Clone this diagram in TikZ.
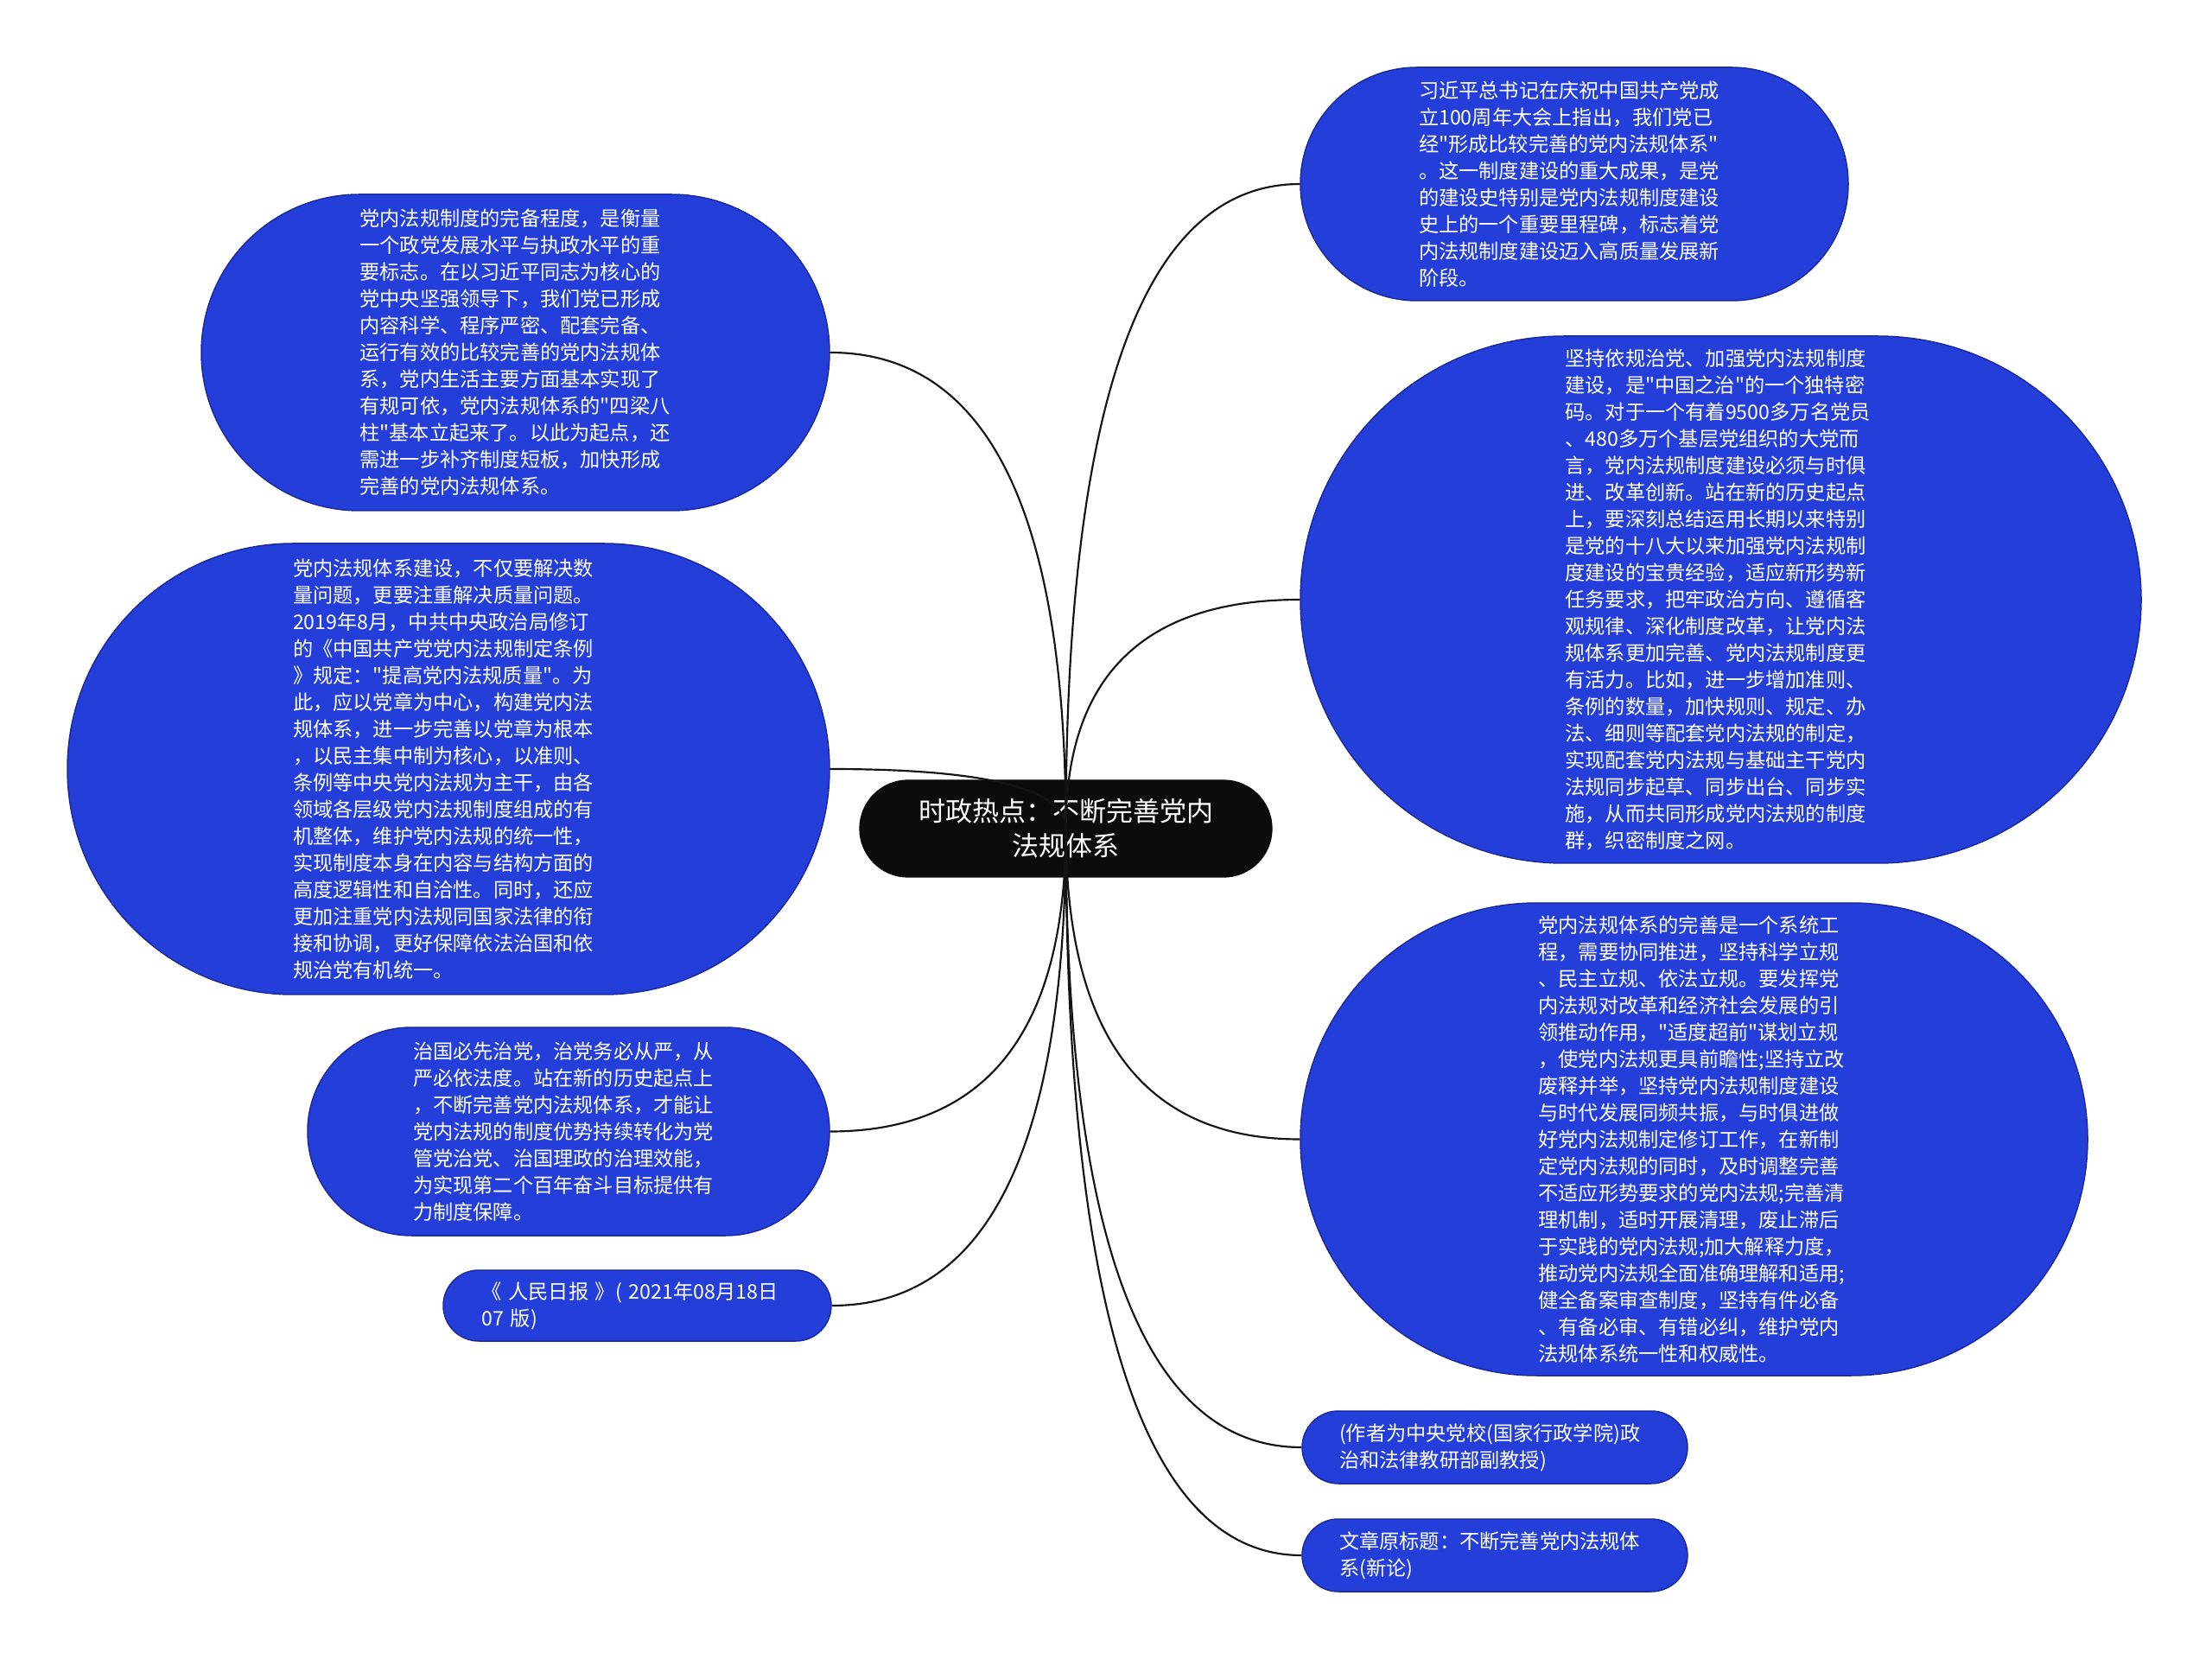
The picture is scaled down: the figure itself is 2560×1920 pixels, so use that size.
\documentclass[tikz,border=0pt]{standalone}
\usepackage{fontspec}
\setmainfont{Noto Sans CJK SC}[Ligatures=TeXOff]
\usetikzlibrary{calc}
\definecolor{nodeblue}{RGB}{36,62,217}
\definecolor{nodeedge}{RGB}{26,42,160}
\definecolor{rootblack}{RGB}{12,12,12}
\definecolor{linkcol}{RGB}{20,20,20}
\begin{document}
\begin{tikzpicture}[x=0.3pt,y=-0.3pt,
  blob/.style={fill=nodeblue, draw=nodeedge, line width=0.45pt, text=white,
    align=left, text width=108pt, inner sep=0pt,
    font=\fontsize{6.96}{9.3}\selectfont},
  rootnode/.style={fill=rootblack, draw=rootblack, text=white, align=center,
    inner sep=0pt, font=\fontsize{9.3}{12}\selectfont,
    minimum width=143.1pt, minimum height=33.6pt, rounded corners=16.8pt},
  link/.style={draw=linkcol, line width=0.65pt}]
\useasboundingbox (0,0) rectangle (2560,1920);
\fill[white] (0,0) rectangle (2560,1920);

% right side
\node[blob, minimum width=190.2pt, minimum height=81pt, rounded corners=40.5pt] (r1) at (1822,213) {习近平总书记在庆祝中国共产党成\\立100周年大会上指出，我们党已\\经"形成比较完善的党内法规体系"\\。这一制度建设的重大成果，是党\\的建设史特别是党内法规制度建设\\史上的一个重要里程碑，标志着党\\内法规制度建设迈入高质量发展新\\阶段。};

\node[blob, minimum width=291.9pt, minimum height=183pt, rounded corners=91.5pt] (r2) at (1991.5,694) {坚持依规治党、加强党内法规制度\\建设，是"中国之治"的一个独特密\\码。对于一个有着9500多万名党员\\、480多万个基层党组织的大党而\\言，党内法规制度建设必须与时俱\\进、改革创新。站在新的历史起点\\上，要深刻总结运用长期以来特别\\是党的十八大以来加强党内法规制\\度建设的宝贵经验，适应新形势新\\任务要求，把牢政治方向、遵循客\\观规律、深化制度改革，让党内法\\规体系更加完善、党内法规制度更\\有活力。比如，进一步增加准则、\\条例的数量，加快规则、规定、办\\法、细则等配套党内法规的制定，\\实现配套党内法规与基础主干党内\\法规同步起草、同步出台、同步实\\施，从而共同形成党内法规的制度\\群，织密制度之网。};

\node[blob, minimum width=273.3pt, minimum height=164.1pt, rounded corners=82pt] (r3) at (1960.5,1318.5) {党内法规体系的完善是一个系统工\\程，需要协同推进，坚持科学立规\\、民主立规、依法立规。要发挥党\\内法规对改革和经济社会发展的引\\领推动作用，"适度超前"谋划立规\\，使党内法规更具前瞻性;坚持立改\\废释并举，坚持党内法规制度建设\\与时代发展同频共振，与时俱进做\\好党内法规制定修订工作，在新制\\定党内法规的同时，及时调整完善\\不适应形势要求的党内法规;完善清\\理机制，适时开展清理，废止滞后\\于实践的党内法规;加大解释力度，\\推动党内法规全面准确理解和适用;\\健全备案审查制度，坚持有件必备\\、有备必审、有错必纠，维护党内\\法规体系统一性和权威性。};

\node[blob, minimum width=133.8pt, minimum height=25.2pt, rounded corners=12.6pt] (r4) at (1730,1675) {(作者为中央党校(国家行政学院)政\\治和法律教研部副教授)};

\node[blob, minimum width=133.8pt, minimum height=25.2pt, rounded corners=12.6pt] (r5) at (1730,1800) {文章原标题：不断完善党内法规体\\系(新论)};

% left side
\node[blob, minimum width=218.1pt, minimum height=109.8pt, rounded corners=54.9pt] (l1) at (596.5,408) {党内法规制度的完备程度，是衡量\\一个政党发展水平与执政水平的重\\要标志。在以习近平同志为核心的\\党中央坚强领导下，我们党已形成\\内容科学、程序严密、配套完备、\\运行有效的比较完善的党内法规体\\系，党内生活主要方面基本实现了\\有规可依，党内法规体系的"四梁八\\柱"基本立起来了。以此为起点，还\\需进一步补齐制度短板，加快形成\\完善的党内法规体系。};

\node[blob, minimum width=264.6pt, minimum height=156.6pt, rounded corners=78.3pt] (l2) at (519,890) {党内法规体系建设，不仅要解决数\\量问题，更要注重解决质量问题。\\2019年8月，中共中央政治局修订\\的《中国共产党党内法规制定条例\\》规定："提高党内法规质量"。为\\此，应以党章为中心，构建党内法\\规体系，进一步完善以党章为根本\\，以民主集中制为核心，以准则、\\条例等中央党内法规为主干，由各\\领域各层级党内法规制度组成的有\\机整体，维护党内法规的统一性，\\实现制度本身在内容与结构方面的\\高度逻辑性和自洽性。同时，还应\\更加注重党内法规同国家法律的衔\\接和协调，更好保障依法治国和依\\规治党有机统一。};

\node[blob, minimum width=181.2pt, minimum height=72.3pt, rounded corners=36.1pt] (l3) at (658,1309.5) {治国必先治党，治党务必从严，从\\严必依法度。站在新的历史起点上\\，不断完善党内法规体系，才能让\\党内法规的制度优势持续转化为党\\管党治党、治国理政的治理效能，\\为实现第二个百年奋斗目标提供有\\力制度保障。};

\node[blob, minimum width=134.7pt, minimum height=24.6pt, rounded corners=12.3pt] (l4) at (737.5,1511) {《 人民日报 》( 2021年08月18日\\07 版)};

% root
\node[rootnode] (root) at (1233.5,959) {时政热点：不断完善党内\\法规体系};

% connectors
\coordinate (o) at (root.center);
\foreach \n/\a in {r1/west, r2/west, r3/west, r4/west, r5/west, l1/east, l2/east, l3/east, l4/east}{
  \coordinate (k) at (o |- \n.\a);
  \draw[link] (o) .. controls ($(o)!0.6667!(k)$) and ($(\n.\a)!0.6667!(k)$) .. (\n.\a);
}
\end{tikzpicture}
\end{document}
